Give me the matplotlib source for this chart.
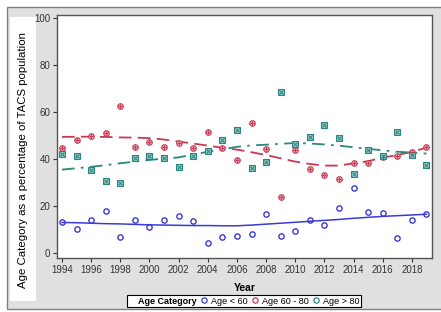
import matplotlib
matplotlib.use('Agg')
from matplotlib import pyplot as plt
from matplotlib.lines import Line2D
from matplotlib.patches import Rectangle

plt.rcParams['font.family'] = ['Liberation Sans', 'DejaVu Sans']

## 数据 (从图上读出来的)
years = list(range(1994, 2020))

young = [13.2, 10.2, 14.2, 17.9, 6.8, 14.2, 10.9, 14.2, 15.6, 13.7,
         4.4, 6.8, 7.4, 8.2, 16.6, 7.1, 9.4, 14.0, 11.8, 19.0,
         27.5, 17.3, 17.0, 6.2, 14.0, 16.6]
middle = [44.5, 48.0, 49.6, 50.9, 62.4, 45.0, 47.4, 45.0, 46.9, 44.5,
          51.7, 44.8, 39.6, 55.3, 44.1, 23.7, 43.8, 35.7, 33.2, 31.5,
          38.2, 38.2, 41.0, 41.3, 43.1, 45.1]
old = [42.0, 41.1, 35.5, 30.5, 29.9, 40.3, 41.1, 40.3, 36.6, 41.1,
       43.3, 47.9, 52.3, 36.0, 38.6, 68.6, 46.3, 49.5, 54.5, 48.8,
       33.8, 43.8, 41.2, 51.7, 41.7, 37.6]

## 平滑曲线 (也是读出来的)
young_fit = [13.0, 12.9, 12.7, 12.5, 12.4, 12.2, 12.0, 11.9, 11.8, 11.7,
             11.7, 11.6, 11.6, 11.9, 12.3, 12.7, 13.1, 13.5, 13.9, 14.3,
             14.8, 15.2, 15.6, 15.9, 16.2, 16.5]
middle_fit = [49.4, 49.5, 49.5, 49.4, 49.2, 49.1, 48.9, 48.3, 47.4, 46.6,
              45.7, 44.8, 44.0, 42.9, 41.7, 40.3, 38.9, 37.9, 37.2, 37.2,
              38.2, 39.1, 40.6, 41.7, 43.1, 44.8]
old_fit = [35.5, 36.1, 36.7, 37.4, 38.2, 38.9, 39.6, 40.2, 40.7, 41.9,
           43.1, 44.1, 45.2, 45.8, 46.1, 46.5, 46.8, 46.6, 46.2, 45.7,
           45.0, 44.3, 43.7, 43.1, 42.7, 42.3]

y_ticks = [0, 20, 40, 60, 80, 100]
x_ticks = list(range(1994, 2019, 2))
labels = ['Age < 60', 'Age 60 - 80', 'Age > 80']

blue = '#3a3ad8'
red = '#c83a52'
green = '#2a8680'

fig = plt.figure(dpi=100, figsize=(4.41, 3.12))
fig.patch.set_facecolor('white')
## 灰色背景框
fig.patches.append(Rectangle((7 / 441, 3 / 312), 1.0, 302 / 312, transform=fig.transFigure,
                             facecolor='#e0e0e0', edgecolor='#808080', lw=1, zorder=-2))
## y轴标题，白底的框
fig.patches.append(Rectangle((10 / 441, 11 / 312), 26 / 441, 284 / 312, transform=fig.transFigure,
                             facecolor='white', edgecolor='none', zorder=-1))

ax = fig.add_axes([0.1293, 0.1731, 0.8503, 0.7798])
ax.set_zorder(2)
ax.set_facecolor('white')

ax.plot(years, young_fit, c=blue, lw=1.1, zorder=2)
ax.plot(years, middle_fit, c=red, lw=1.3, dashes=(7, 3.5), zorder=2)
ax.plot(years, old_fit, c=green, lw=1.3, dashes=(7, 3.5, 1.5, 3.5), zorder=2)

ax.plot(years, young, ls='none', marker='o', ms=3.8, mfc='none', mec=blue, mew=1.0, zorder=3)
ax.plot(years, middle, ls='none', marker='o', ms=4.0, mfc='#eaa8b3', mec=red, mew=0.8, zorder=3)
ax.plot(years, middle, ls='none', marker='+', ms=3.0, mec=red, mew=0.7, zorder=4)
ax.plot(years, old, ls='none', marker='s', ms=3.8, mfc='#98c9c4', mec=green, mew=0.8, zorder=3)
ax.plot(years, old, ls='none', marker='x', ms=2.4, mec=green, mew=0.7, zorder=4)

ax.set_xlim(1993.66, 2019.38)
ax.set_ylim(-2.1, 101.4)
ax.set_xticks(x_ticks)
ax.set_yticks(y_ticks)
ax.tick_params(axis='both', which='major', labelsize=7, length=3, width=0.8,
               colors='#333333', direction='out', pad=2)
for s in ax.spines.values():
    s.set_color('#555555')
    s.set_linewidth(1.0)

ax.set_xlabel('Year', fontsize=7.5, fontweight='bold', labelpad=6)

fig.text(23 / 441, (312 - 160) / 312, 'Age Category as a percentage of TACS population',
         rotation=90, ha='center', va='center', fontsize=8.2, color='black', zorder=3)

## 图例
handles = [Line2D([], [], ls='none')]
for c in [blue, red, green]:
    handles.append(Line2D([], [], ls='none', marker='o', ms=3.8, mfc='none', mec=c, mew=0.9))
leg = fig.legend(handles, ['Age Category'] + labels, loc='center',
                 bbox_to_anchor=(244 / 441, (312 - 301) / 312), ncol=4, fontsize=6.5,
                 frameon=True, fancybox=False, edgecolor='black', framealpha=1,
                 borderpad=0.15, handlelength=0.6, handletextpad=0.45, columnspacing=0.55,
                 borderaxespad=0)
leg.set_zorder(5)
leg.get_frame().set_linewidth(0.8)
leg.get_texts()[0].set_fontweight('bold')

plt.savefig('out.png', dpi=100)
